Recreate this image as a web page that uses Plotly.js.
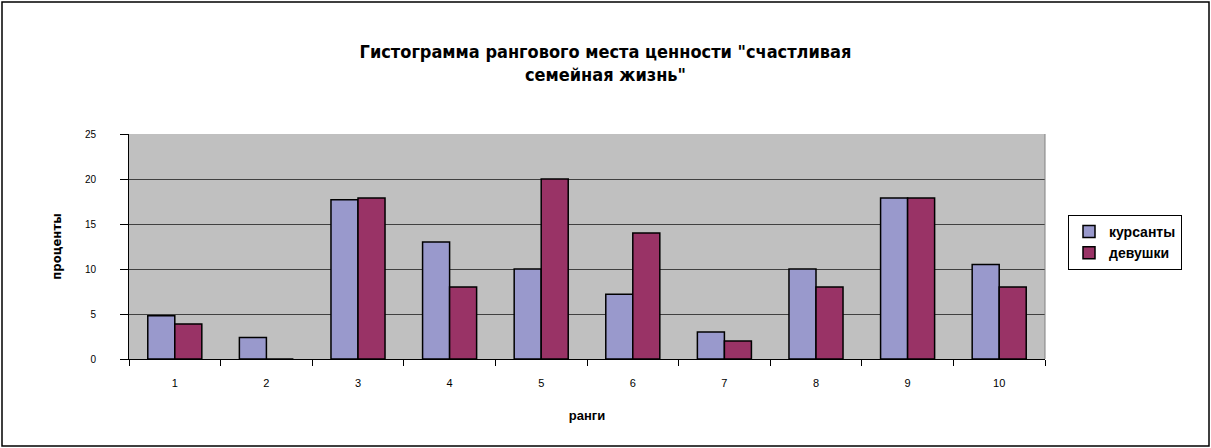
<!DOCTYPE html>
<html>
<head>
<meta charset="utf-8">
<script src="https://cdn.plot.ly/plotly-3.0.1.min.js"></script>
<style>
html,body{margin:0;padding:0;background:#fff;}
#chart{width:1211px;height:448px;}
</style>
</head>
<body>
<div id="chart"></div>
<script>
const categories = ["1","2","3","4","5","6","7","8","9","10"];
const seriesNames = ["курсанты","девушки"];
const kursanty = [4.8, 2.4, 17.7, 13.0, 10.0, 7.2, 3.0, 10.0, 17.9, 10.5];
const devushki = [3.9, 0, 17.9, 8.0, 20.0, 14.0, 2.0, 8.0, 17.9, 8.0];
const yTicks = [0, 5, 10, 15, 20, 25];
const titleText = "Гистограмма рангового места ценности \"счастливая<br>семейная жизнь\"";
const xTitle = "ранги";
const yTitle = "проценты";

const L = 129, R = 1045, T = 134, B = 359, W = 1211, H = 448;
const pw = R - L, ph = B - T;

const traces = [
  {type:'bar', name:seriesNames[0], x:categories, y:kursanty,
   marker:{color:'#9999CC', line:{color:'#000', width:1.5}}},
  {type:'bar', name:seriesNames[1], x:categories, y:devushki,
   marker:{color:'#993366', line:{color:'#000', width:1.5}}}
];

const layout = {
  width:W, height:H,
  margin:{l:L, r:W-R, t:T, b:H-B, pad:0},
  paper_bgcolor:'#fff',
  plot_bgcolor:'#C0C0C0',
  font:{family:'Arial, Liberation Sans, sans-serif', size:11, color:'#000'},
  title:{text:titleText, x:0.5, xref:'container', y:1-57.5/H, yref:'container',
         yanchor:'middle', xanchor:'center',
         font:{family:'Liberation Sans Narrow, Arial Narrow, DejaVu Sans Condensed, sans-serif', size:18, weight:'bold', color:'#000'}},
  barmode:'group', bargap:0.41, bargroupgap:0,
  showlegend:true,
  legend:{x:(1068-L)/pw, y:(B-215)/ph, xanchor:'left', yanchor:'top',
          bgcolor:'#fff', bordercolor:'#000', borderwidth:1,
          font:{family:'Arial, sans-serif', size:14, weight:'bold'},
          tracegroupgap:6, itemwidth:30},
  xaxis:{type:'category', showgrid:false, zeroline:false,
         showline:true, linecolor:'#000', linewidth:1,
         ticks:'outside', tickson:'boundaries', ticklen:6, tickcolor:'#000',
         tickfont:{size:11}, ticklabelstandoff:14,
         title:{text:xTitle, standoff:22, font:{size:13, weight:'bold'}}},
  yaxis:{range:[0,25], tickvals:yTicks, showgrid:true, gridcolor:'#404040', gridwidth:1,
         zeroline:false, showline:true, linecolor:'#000', linewidth:1,
         ticks:'outside', ticklen:8, tickcolor:'#000',
         tickfont:{size:10}, ticklabelstandoff:22,
         title:{text:yTitle, standoff:20, font:{family:'Liberation Sans Narrow, DejaVu Sans Condensed, sans-serif', size:13, weight:'bold'}}},
  shapes:[
    {type:'rect', xref:'paper', yref:'paper',
     x0:(2-L)/pw, x1:(1209-L)/pw, y0:(B-446)/ph, y1:(B-2)/ph,
     line:{color:'#000', width:1.5}, fillcolor:'rgba(0,0,0,0)', layer:'below'},
    {type:'line', xref:'paper', yref:'paper', x0:1, x1:1, y0:0, y1:1,
     line:{color:'#808080', width:1}}
  ]
};

Plotly.newPlot('chart', traces, layout, {displayModeBar:false, staticPlot:true});
</script>
</body>
</html>
